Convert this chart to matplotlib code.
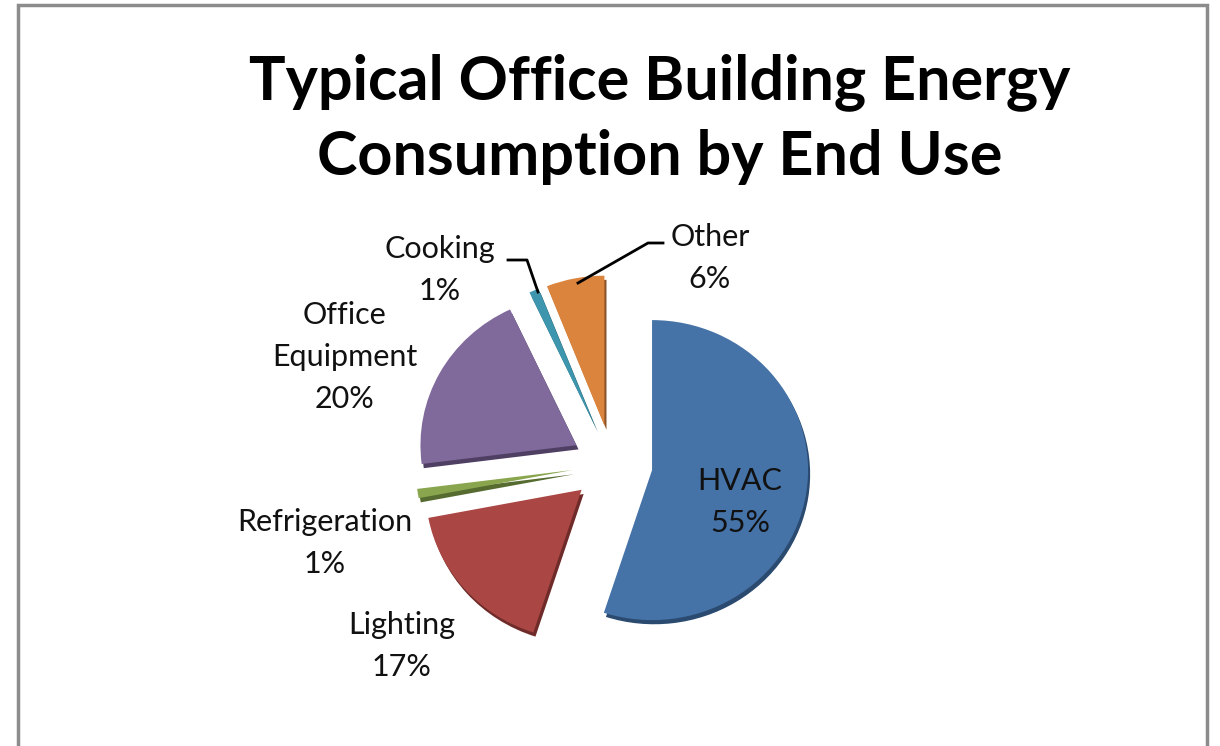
import matplotlib
matplotlib.use("Agg")
import matplotlib.pyplot as plt
import matplotlib.patheffects as pe
from matplotlib.patches import Rectangle

# data
categories = ["HVAC", "Lighting", "Refrigeration", "Office\nEquipment", "Cooking", "Other"]
shares = [55, 17, 1, 20, 1, 6]
colors = ["#4572A7", "#AA4643", "#89A54E", "#80699B", "#3D96AE", "#DB843D"]
shade = ["#2b4a70", "#6e2b29", "#566b30", "#4f3f63", "#27606f", "#8c5327"]

# label anchor points in pixels (x, y from top)
label_pos = [(740, 502), (402, 646), (325, 543), (345, 357), (440, 270), (710, 258)]

W, H = 1220, 746
cx, cy = 612, 464      # pie centre, pixels from top-left
rx, ry = 156, 150      # pie is a touch wider than tall
fig = plt.figure(figsize=(W / 100, H / 100), dpi=100)

# pie axes: unit radius, stretched via limits
axp = fig.add_axes([0, 0, 1, 1])
wedges, _ = axp.pie(shares, colors=colors, startangle=90, counterclock=False,
                    explode=[0.26] * len(shares), center=(0, 0), radius=1,
                    frame=True, wedgeprops=dict(linewidth=0))
for w, s in zip(wedges, shade):
    w.set_path_effects([pe.SimplePatchShadow(offset=(1.5, -3), shadow_rgbFace=s, alpha=1.0),
                        pe.Normal()])
axp.set_aspect("auto")
axp.set_xlim(-cx / rx, (W - cx) / rx)
axp.set_ylim(-(H - cy) / ry, cy / ry)
axp.axis("off")

# text axes in pixel units
ax = fig.add_axes([0, 0, 1, 1])
ax.set_xlim(0, W)
ax.set_ylim(H, 0)
ax.axis("off")

font = "Lato"
for name, v, (x, y) in zip(categories, shares, label_pos):
    ax.text(x, y, "{}\n{}%".format(name, v), ha="center", va="center",
            fontsize=22, family=font, linespacing=1.6, color="#111111")

# leader lines
ax.plot([508, 527, 538], [260, 260, 292], color="black", lw=2)
ax.plot([663, 648, 578], [243, 243, 283], color="black", lw=2)

ax.text(660, 119, "Typical Office Building Energy\nConsumption by End Use",
        ha="center", va="center", fontsize=44, fontweight="bold", family=font,
        linespacing=1.4, color="black")

fig.patches.append(Rectangle((18 / W, -0.05), (1207 - 18) / W, (H - 5) / H + 0.05,
                             transform=fig.transFigure, fill=False,
                             edgecolor="#8c8c8c", linewidth=2.5))

fig.savefig("out.png", dpi=100, facecolor="white")
